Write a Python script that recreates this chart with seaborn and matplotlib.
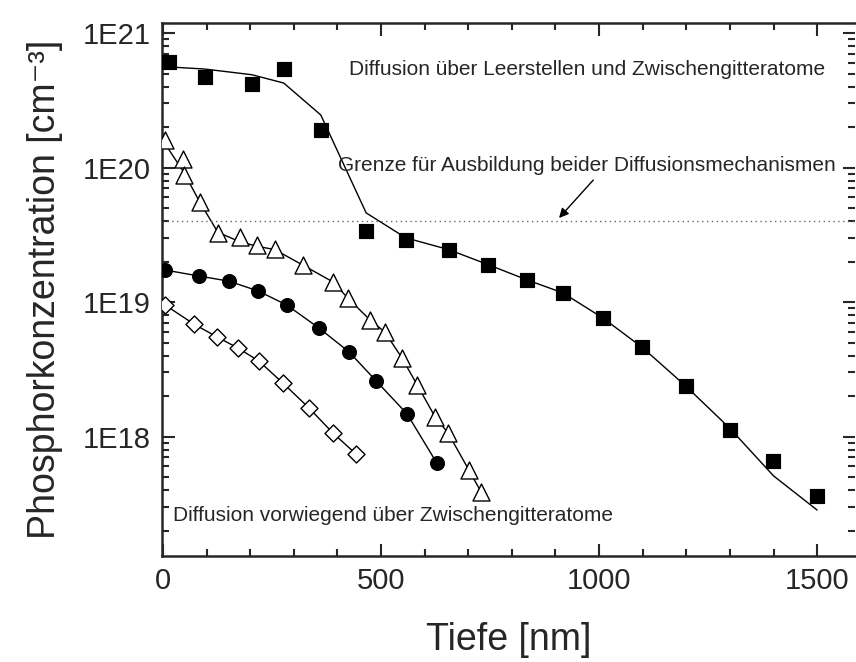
import matplotlib
matplotlib.use("Agg")
import matplotlib.pyplot as plt
from matplotlib.ticker import FixedLocator, MultipleLocator, LogLocator, FuncFormatter, NullFormatter
import seaborn as sns
import numpy as np

# squares: Diffusion ueber Leerstellen und Zwischengitteratome
sq_x = [14, 96, 204, 277, 362, 466, 557, 656, 745, 835, 917, 1009, 1099, 1199, 1300, 1399, 1500]
sq_y = [6.1e20, 4.7e20, 4.2e20, 5.4e20, 1.9e20, 3.4e19, 2.9e19, 2.45e19, 1.9e19, 1.46e19,
        1.17e19, 7.6e18, 4.6e18, 2.37e18, 1.12e18, 6.6e17, 3.6e17]
sq_fit_x = [14, 96, 204, 277, 362, 466, 557, 656, 745, 835, 917, 1009, 1099, 1199, 1300, 1400, 1500]
sq_fit_y = [5.6e20, 5.4e20, 4.9e20, 4.25e20, 2.46e20, 4.6e19, 3.0e19, 2.45e19, 1.9e19, 1.46e19,
            1.17e19, 7.6e18, 4.6e18, 2.37e18, 1.15e18, 5.1e17, 2.84e17]

# triangles
tri_x = [5, 46, 48, 85, 126, 177, 216, 257, 321, 390, 424, 475, 509, 548, 583, 624, 654, 702, 729]
tri_y = [1.6e20, 1.16e20, 8.8e19, 5.5e19, 3.26e19, 3.04e19, 2.65e19, 2.48e19, 1.88e19, 1.41e19,
         1.07e19, 7.35e18, 5.98e18, 3.84e18, 2.42e18, 1.40e18, 1.06e18, 5.6e17, 3.9e17]
tri_fit_x = [5, 48, 85, 126, 177, 216, 257, 321, 390, 424, 475, 509, 548, 583, 624, 654, 702, 729]
tri_fit_y = [1.5e20, 9.2e19, 5.5e19, 3.3e19, 2.8e19, 2.6e19, 2.45e19, 1.88e19, 1.41e19,
             1.07e19, 7.35e18, 5.98e18, 3.84e18, 2.42e18, 1.40e18, 1.06e18, 5.6e17, 3.9e17]

# circles
ci_x = [5, 83, 151, 218, 284, 358, 427, 489, 560, 628]
ci_y = [1.73e19, 1.56e19, 1.43e19, 1.21e19, 9.5e18, 6.4e18, 4.25e18, 2.59e18, 1.47e18, 6.35e17]

# diamonds
di_x = [5, 71, 124, 172, 220, 275, 335, 390, 443]
di_y = [9.5e18, 6.86e18, 5.5e18, 4.55e18, 3.64e18, 2.5e18, 1.63e18, 1.06e18, 7.4e17]

grenze = 4e19
ytick_vals = [1e18, 1e19, 1e20, 1e21]
ytick_labels = ["1E18", "1E19", "1E20", "1E21"]

sns.set_style("ticks")
plt.rcParams['font.family'] = ['Liberation Sans', 'DejaVu Sans']

fig = plt.figure(figsize=(8.56, 6.62), dpi=100)
ax = fig.add_axes([0.1893, 0.160, 0.8096, 0.8051])

lines = [(sq_fit_x, sq_fit_y), (tri_fit_x, tri_fit_y), (ci_x, ci_y), (di_x, di_y)]
for lx, ly in lines:
    sns.lineplot(x=lx, y=ly, ax=ax, color="black", lw=1, sort=False, estimator=None)

sns.scatterplot(x=sq_x, y=sq_y, ax=ax, marker="s", s=110, color="black", edgecolor="black", zorder=3)
sns.scatterplot(x=ci_x, y=ci_y, ax=ax, marker="o", s=100, color="black", edgecolor="black", zorder=3)
sns.scatterplot(x=tri_x, y=tri_y, ax=ax, marker="^", s=150, facecolor="white", edgecolor="black",
                linewidth=1, zorder=3)
sns.scatterplot(x=di_x, y=di_y, ax=ax, marker="D", s=75, facecolor="white", edgecolor="black",
                linewidth=1, zorder=3)

ax.axhline(grenze, color="#666666", lw=1, ls=(0, (1, 2.5)))

ax.set_yscale("log")
ax.set_xlim(-2, 1587)
ax.set_ylim(10**17.111, 10**21.074)

ax.xaxis.set_major_locator(FixedLocator([0, 500, 1000, 1500]))
ax.xaxis.set_minor_locator(MultipleLocator(100))
ax.yaxis.set_major_locator(FixedLocator(ytick_vals))
ax.yaxis.set_major_formatter(FuncFormatter(lambda v, p: ytick_labels[ytick_vals.index(v)] if v in ytick_vals else ""))
ax.yaxis.set_minor_locator(LogLocator(base=10, subs=np.arange(2, 10)))
ax.yaxis.set_minor_formatter(NullFormatter())

ax.tick_params(which="both", direction="in", top=True, right=True, width=1.5, labelsize=21, pad=8)
ax.tick_params(which="major", length=9)
ax.tick_params(which="minor", length=5)
for side in ["left", "bottom", "top"]:
    ax.spines[side].set_linewidth(1.8)
ax.spines["right"].set_visible(False)

ax.set_xlabel("Tiefe [nm]", fontsize=27, labelpad=19)
ax.set_ylabel("Phosphorkonzentration [cm⁻³]", fontsize=27, labelpad=14)

ax.text(427, 5.4e20, "Diffusion über Leerstellen und Zwischengitteratome", fontsize=15, va="center")
ax.text(401, 1.04e20, "Grenze für Ausbildung beider Diffusionsmechanismen", fontsize=15, va="center")
ax.text(23, 2.6e17, "Diffusion vorwiegend über Zwischengitteratome", fontsize=15, va="center")
ax.annotate("", xy=(904, 4.07e19), xytext=(991, 8.36e19),
            arrowprops=dict(arrowstyle="-|>", color="black", lw=1, mutation_scale=14))

fig.savefig("out.png", dpi=100)
